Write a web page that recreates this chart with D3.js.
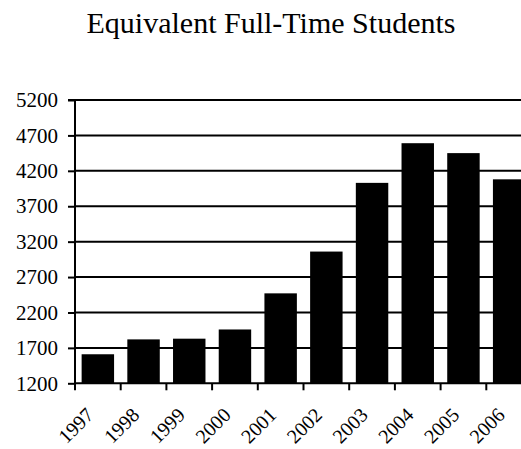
<!DOCTYPE html>
<html>
<head>
<meta charset="utf-8">
<script src="https://cdn.jsdelivr.net/npm/d3@7"></script>
<style>
  html, body { margin: 0; padding: 0; background: #fff; }
  svg { display: block; }
</style>
</head>
<body>
<svg id="chart" width="521" height="449"></svg>
<script>
const title = "Equivalent Full-Time Students";
const years = ["1997", "1998", "1999", "2000", "2001", "2002", "2003", "2004", "2005", "2006"];
const students = [1610, 1820, 1830, 1960, 2470, 3060, 4030, 4590, 4450, 4080];
const yTicks = [1200, 1700, 2200, 2700, 3200, 3700, 4200, 4700, 5200];

const FONT = "Liberation Serif";
const svg = d3.select("#chart");
const mLeft = 75, mRight = 532, mTop = 100, mBottom = 383.3;

const x = d3.scaleBand().domain(years).range([mLeft, mRight]).paddingInner(0.29).paddingOuter(0.145);
const y = d3.scaleLinear().domain([1200, 5200]).range([mBottom, mTop]);

svg.append("text")
  .attr("x", 271).attr("y", 33)
  .attr("text-anchor", "middle")
  .attr("font-family", FONT)
  .attr("font-size", 30)
  .attr("fill", "#000")
  .text(title);

// gridlines
svg.append("g").selectAll("line").data(yTicks.slice(1)).join("line")
  .attr("x1", mLeft).attr("x2", mRight)
  .attr("y1", d => y(d)).attr("y2", d => y(d))
  .attr("stroke", "#000").attr("stroke-width", 2);

// bars
svg.append("g").selectAll("rect").data(years).join("rect")
  .attr("x", d => x(d))
  .attr("y", (d, i) => y(students[i]))
  .attr("width", x.bandwidth())
  .attr("height", (d, i) => mBottom - y(students[i]))
  .attr("fill", "#000");

// y axis
const yAxis = d3.axisLeft(y).tickValues(yTicks).tickSize(7).tickPadding(10).tickFormat(d3.format("d"));
const gy = svg.append("g").attr("transform", `translate(${mLeft},0)`).call(yAxis)
  .attr("font-family", FONT).attr("font-size", 21);
gy.select(".domain").attr("stroke", "#000").attr("stroke-width", 2).attr("d", `M-7,${mTop}H0V${mBottom}`);
gy.selectAll(".tick line").attr("stroke", "#000").attr("stroke-width", 2);
gy.selectAll(".tick text").attr("fill", "#000");

// x axis
const step = x.step();
const gx = svg.append("g").attr("font-family", FONT).attr("font-size", 20);
gx.append("line").attr("x1", mLeft - 1).attr("x2", mRight).attr("y1", mBottom).attr("y2", mBottom)
  .attr("stroke", "#000").attr("stroke-width", 2);
gx.selectAll("line.tk").data(d3.range(years.length + 1)).join("line").attr("class", "tk")
  .attr("x1", i => mLeft + i * step).attr("x2", i => mLeft + i * step)
  .attr("y1", mBottom).attr("y2", mBottom + 7)
  .attr("stroke", "#000").attr("stroke-width", 2);
gx.selectAll("text").data(years).join("text")
  .attr("transform", d => `translate(${x(d) + x.bandwidth() / 2 - 3},${mBottom + 33}) rotate(-45)`)
  .attr("text-anchor", "end")
  .attr("fill", "#000")
  .text(d => d);
</script>
</body>
</html>
